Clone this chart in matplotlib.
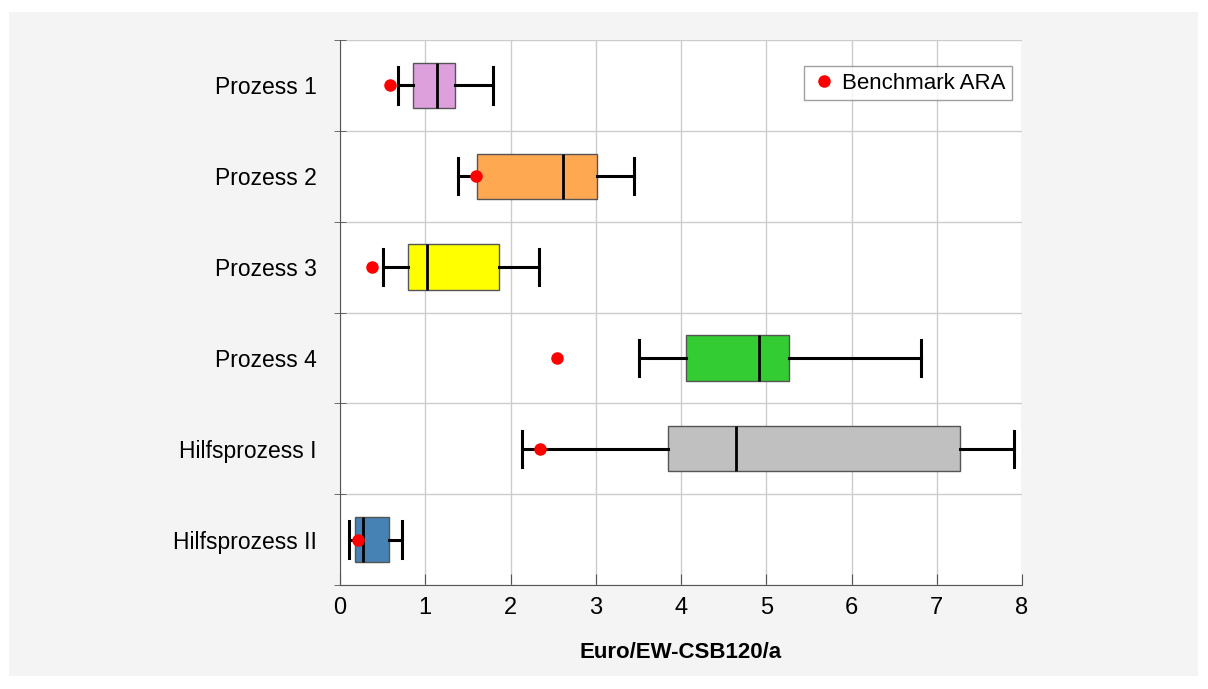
import matplotlib
matplotlib.use("Agg")
import matplotlib.pyplot as plt
from matplotlib.patches import Rectangle
from matplotlib.lines import Line2D

plt.rcParams['font.family'] = ['Liberation Sans', 'DejaVu Sans']

# Daten (von oben nach unten)
labels = ["Prozess 1", "Prozess 2", "Prozess 3", "Prozess 4", "Hilfsprozess I", "Hilfsprozess II"]
whisker_low = [0.68, 1.39, 0.50, 3.51, 2.14, 0.10]
q1 = [0.86, 1.61, 0.80, 4.06, 3.85, 0.175]
median = [1.14, 2.62, 1.02, 4.91, 4.65, 0.27]
q3 = [1.35, 3.01, 1.86, 5.27, 7.27, 0.57]
whisker_high = [1.79, 3.45, 2.34, 6.82, 7.91, 0.73]
benchmark = [0.59, 1.60, 0.37, 2.55, 2.35, 0.21]
colors = ["#DDA0DD", "#FFA852", "#FFFF00", "#33CC33", "#C0C0C0", "#4682B4"]

W, H = 1208, 689
fig = plt.figure(figsize=(W / 100, H / 100), dpi=100)
fig.patch.set_facecolor("white")
fig.patches.append(Rectangle((9 / W, 1 - 676 / H), (1198 - 9) / W, (676 - 12) / H,
                             transform=fig.transFigure, facecolor="#F4F4F4",
                             edgecolor="none", zorder=-10))

ax = fig.add_axes([340 / W, 1 - 585 / H, (1022 - 340) / W, (585 - 40) / H])
ax.set_facecolor("white")

n = len(labels)
positions = list(range(n, 0, -1))

stats = []
for i in range(n):
    stats.append({"whislo": whisker_low[i], "q1": q1[i], "med": median[i],
                  "q3": q3[i], "whishi": whisker_high[i], "fliers": []})

bp = ax.bxp(stats, positions=positions, orientation="horizontal", widths=0.5,
            capwidths=0.4, patch_artist=True, showfliers=False,
            boxprops=dict(edgecolor="#555555", linewidth=1.0),
            medianprops=dict(color="black", linewidth=2.0),
            whiskerprops=dict(color="black", linewidth=2.2),
            capprops=dict(color="black", linewidth=2.2))
for patch, c in zip(bp["boxes"], colors):
    patch.set_facecolor(c)
    patch.set_zorder(3)
for key in ["medians", "whiskers", "caps"]:
    for ln in bp[key]:
        ln.set_zorder(3)

ax.plot(benchmark, positions, linestyle="none", marker="o", color="red",
        markersize=8, zorder=5)

ax.set_xlim(0, 8)
ax.set_ylim(0.5, n + 0.5)
ax.set_xticks(range(0, 9))
ax.set_yticks(positions)
ax.set_yticklabels(labels)
ax.set_yticks([k + 0.5 for k in range(0, n + 1)], minor=True)

ax.grid(axis="x", color="#CCCCCC", linewidth=1.0, zorder=0)
ax.grid(axis="y", which="minor", color="#CCCCCC", linewidth=1.0, zorder=0)
ax.set_axisbelow(True)

ax.tick_params(axis="y", which="major", length=0, labelsize=16.5, pad=17)
ax.tick_params(axis="y", which="minor", length=8, direction="inout", color="#555555")
ax.tick_params(axis="x", direction="in", length=8, labelsize=17, color="#555555", pad=9)

for side in ["top", "right"]:
    ax.spines[side].set_visible(False)
for side in ["left", "bottom"]:
    ax.spines[side].set_color("#555555")

ax.set_xlabel("Euro/EW-CSB120/a", fontsize=16, fontweight="bold", labelpad=16)

handle = Line2D([], [], linestyle="none", marker="o", color="red", markersize=8)
leg = ax.legend([handle], ["Benchmark ARA"], loc="upper right", fontsize=16,
                frameon=True, fancybox=False, handletextpad=0.2, handlelength=1.2,
                borderpad=0.3, borderaxespad=0, bbox_to_anchor=(0.985, 0.952))
leg.get_frame().set_edgecolor("#888888")
leg.get_frame().set_linewidth(1.0)

fig.savefig("out.png", dpi=100)
